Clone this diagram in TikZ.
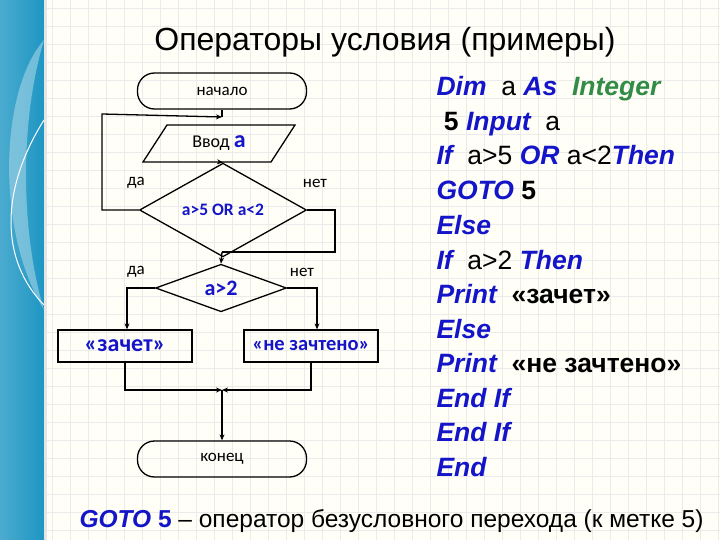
\documentclass[tikz,border=0pt]{standalone}
\usepackage{fontspec}
\setmainfont{Liberation Sans}
\newfontfamily\calfont{Carlito}
\usetikzlibrary{shapes.geometric,arrows.meta}
\definecolor{kw}{RGB}{20,20,200}
\definecolor{gr}{RGB}{50,140,70}
\definecolor{band}{RGB}{30,150,195}
\begin{document}
\begin{tikzpicture}[x=1pt,y=-1pt,
  ln/.style={line width=1.3pt},
  arr/.style={ln,-{Stealth[length=6pt,width=5pt]}},
  term/.style={draw,ln,rounded corners=17pt,minimum width=169pt,minimum height=36pt,font=\calfont\fontsize{17}{17}\selectfont},
  dia/.style={draw,ln,diamond,inner sep=0pt},
  box/.style={draw,ln,minimum width=134pt,minimum height=32pt,font=\calfont\bfseries\fontsize{24}{24}\selectfont\color{kw}},
  lbl/.style={font=\calfont\fontsize{17}{17}\selectfont},
  code/.style={anchor=base west,font=\fontsize{26.5}{27}\selectfont\bfseries}]
\useasboundingbox (0,0) rectangle (720,540);
\fill[white!97!yellow] (0,0) rectangle (720,540);
\foreach \i in {52,70,...,720} \draw[black!8,line width=0.5pt] (\i,0) -- (\i,540);
\foreach \j in {8,26,...,540} \draw[black!8,line width=0.5pt] (44,\j) -- (720,\j);
\shade[left color=band!80!white,right color=band] (0,0) rectangle (44,540);
\fill[white!60!band,opacity=0.6] (44,40) .. controls (0,90) and (-5,230) .. (44,310) .. controls (20,230) and (20,120) .. (44,40);
\draw[white,line width=1pt] (44,120) .. controls (0,190) and (0,260) .. (44,305);
\fill[black!10] (44,0) rectangle (47,540);

\node[font=\fontsize{32}{32}\selectfont] (title) at (385,42) {Операторы условия (примеры)};

\node[term] (start) at (222,91) {начало};
\node[minimum width=120pt,minimum height=37pt] (inp) at (219,143) {\calfont\fontsize{18}{18}\selectfont Ввод {\bfseries\fontsize{24}{24}\selectfont\color{kw}a}};
\draw[ln] (167,125) -- (295,125) -- (271,162) -- (143,162) -- cycle;
\node[dia,minimum width=167pt,minimum height=60pt,font=\calfont\bfseries\fontsize{17.5}{17.5}\selectfont\color{kw}] (d1) at (223,210) {a>5 OR a<2};
\node[dia,minimum width=131pt,minimum height=47pt,font=\calfont\bfseries\fontsize{22}{22}\selectfont\color{kw}] (d2) at (221,288) {a>2};
\node[box] (yes) at (125,346) {«зачет»};
\node[box,font=\calfont\bfseries\fontsize{20.5}{20.5}\selectfont\color{kw}] (no) at (311,346) {«не зачтено»};
\node[term] (end) at (222,459) {конец};

\node[lbl] (da1) at (136,183) {да};
\node[lbl] (net1) at (315,183) {нет};
\node[lbl] (da2) at (136,272) {да};
\node[lbl] (net2) at (302,272) {нет};

\coordinate (loopin) at (222,117);
\coordinate (j1) at (222,252);
\coordinate (m) at (222,390);
\coordinate (ly) at (127,288);
\coordinate (ry) at (317,288);
\draw[ln] (start.south) -- (loopin);
\draw[arr] (219,162) -- (d1.north);
\draw[arr] (d1.west) -- (102,210) -- (102,114) -- (loopin);
\draw[ln] (d1.east) -- (335,210) -- (335,252) -- (j1);
\draw[arr] (j1) -- (d2.north);
\draw[arr] (d2.west) -- (ly) -- (ly |- yes.north);
\draw[arr] (d2.east) -- (ry) -- (ry |- no.north);
\draw[arr] (yes.south) -- (125,390) -- (m);
\draw[arr] (no.south) -- (311,390) -- (m);
\draw[arr] (m) -- (end.north);

\node[code] (c1) at (433,96) {\textit{\color{kw}Dim} \ {\mdseries a} \textit{\color{kw}As} \ \textit{\color{gr}Integer}};
\node[code] (c2) at (433,131) {\ 5 \textit{\color{kw}Input} \ {\mdseries a}};
\node[code] (c3) at (433,165) {\textit{\color{kw}If} \ {\mdseries a>5} \textit{\color{kw}OR} {\mdseries a<2}\textit{\color{kw}Then}};
\node[code] (c4) at (433,200) {\textit{\color{kw}GOTO} 5};
\node[code] (c5) at (433,234) {\textit{\color{kw}Else}};
\node[code] (c6) at (433,269) {\textit{\color{kw}If} \ {\mdseries a>2} \textit{\color{kw}Then}};
\node[code] (c7) at (433,303) {\textit{\color{kw}Print} \ «зачет»};
\node[code] (c8) at (433,338) {\textit{\color{kw}Else}};
\node[code] (c9) at (433,372) {\textit{\color{kw}Print} \ «не зачтено»};
\node[code] (c10) at (433,407) {\textit{\color{kw}End If}};
\node[code] (c11) at (433,441) {\textit{\color{kw}End If}};
\node[code] (c12) at (433,476) {\textit{\color{kw}End}};

\node[anchor=base west,font=\fontsize{24.5}{25}\selectfont] (foot) at (76,527) {{\bfseries\itshape\color{kw}GOTO} {\bfseries\color{kw}5} – оператор безусловного перехода (к метке 5)};
\end{tikzpicture}
\end{document}
